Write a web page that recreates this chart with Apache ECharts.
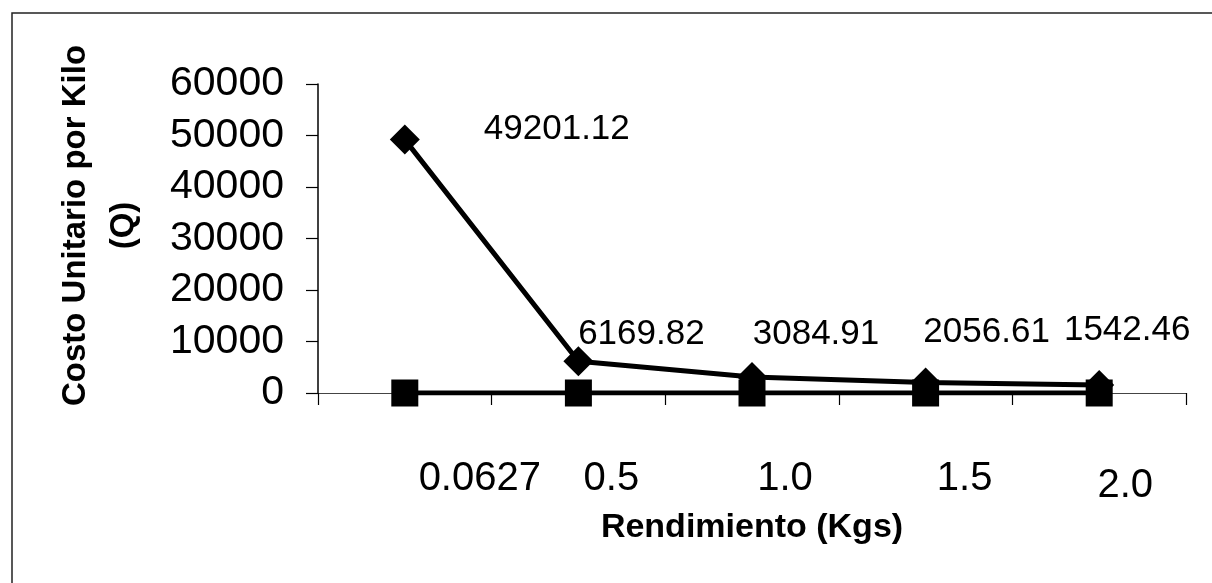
<!DOCTYPE html>
<html>
<head>
<meta charset="utf-8">
<script src="https://cdn.jsdelivr.net/npm/echarts@6/dist/echarts.min.js"></script>
<style>
html,body{margin:0;padding:0;background:#fff;}
#chart{width:1212px;height:583px;}
</style>
</head>
<body>
<div id="chart"></div>
<script>
const categories = ['0.0627', '0.5', '1.0', '1.5', '2.0'];
const costoUnitario = [49201.12, 6169.82, 3084.91, 2056.61, 1542.46];
const rendimiento = [0.0627, 0.5, 1.0, 1.5, 2.0];
const yTicks = [0, 10000, 20000, 30000, 40000, 50000, 60000];

const FONT = 'Liberation Sans, Arial, sans-serif';
const labelOffsets = [[152, -10], [63, -27], [64, -43], [61, -50], [28, -55]];
const catLabelPad = [[0, 0, 0, 150], [0, 0, 0, 66], [0, 0, 0, 66], [0, 0, 0, 78], [7, 0, 0, 52]];

const rich = {};
catLabelPad.forEach((p, i) => {
  rich['c' + i] = { padding: p, fontSize: 40, fontFamily: FONT, color: '#000' };
});

const chart = echarts.init(document.getElementById('chart'), null, { renderer: 'canvas' });
chart.setOption({
  backgroundColor: '#fff',
  animation: false,
  graphic: [{
    type: 'rect',
    shape: { x: 12, y: 13, width: 1300, height: 700 },
    style: { fill: 'none', stroke: '#222', lineWidth: 1.5 },
    silent: true
  }],
  grid: { left: 318, right: 26, top: 84, bottom: 190 },
  xAxis: {
    type: 'category',
    data: categories,
    boundaryGap: true,
    name: 'Rendimiento (Kgs)',
    nameLocation: 'middle',
    nameGap: 103,
    nameTextStyle: { fontSize: 34, fontWeight: 'bold', fontFamily: FONT, color: '#000' },
    axisLine: { lineStyle: { color: '#444', width: 1.2 } },
    axisTick: { show: true, alignWithLabel: false, interval: 0, length: 12, lineStyle: { color: '#000', width: 1.2 } },
    axisLabel: {
      interval: 0,
      hideOverlap: false,
      margin: 66,
      fontSize: 40,
      fontFamily: FONT,
      color: '#000',
      formatter: (v, i) => '{c' + i + '|' + v + '}',
      rich: rich
    },
    splitLine: { show: false }
  },
  yAxis: {
    type: 'value',
    min: yTicks[0],
    max: yTicks[yTicks.length - 1],
    interval: yTicks[1] - yTicks[0],
    name: 'Costo Unitario por Kilo\n(Q)',
    nameLocation: 'middle',
    nameGap: 170,
    nameRotate: 90,
    nameTextStyle: { fontSize: 33, fontWeight: 'bold', fontFamily: FONT, color: '#000', lineHeight: 48, align: 'center', padding: [0, 0, 0, 26] },
    axisLine: { show: true, lineStyle: { color: '#000', width: 1.5 } },
    axisTick: { show: true, length: 12, lineStyle: { color: '#000', width: 1.2 } },
    axisLabel: { margin: 34, fontSize: 41, fontFamily: FONT, color: '#000', formatter: v => String(v) },
    splitLine: { show: false }
  },
  series: [
    {
      name: 'Costo Unitario',
      type: 'line',
      data: costoUnitario.map((v, i) => ({
        value: v,
        label: { offset: labelOffsets[i] }
      })),
      symbol: 'diamond',
      symbolSize: 30,
      lineStyle: { color: '#000', width: 5 },
      itemStyle: { color: '#000' },
      label: {
        show: true,
        position: 'inside',
        fontSize: 35,
        fontFamily: FONT,
        color: '#000',
        formatter: p => p.value.toFixed(2)
      },
      z: 2
    },
    {
      name: 'Rendimiento',
      type: 'line',
      data: rendimiento,
      symbol: 'rect',
      symbolSize: 27,
      lineStyle: { color: '#000', width: 5 },
      itemStyle: { color: '#000' },
      z: 3
    }
  ]
});
</script>
</body>
</html>
